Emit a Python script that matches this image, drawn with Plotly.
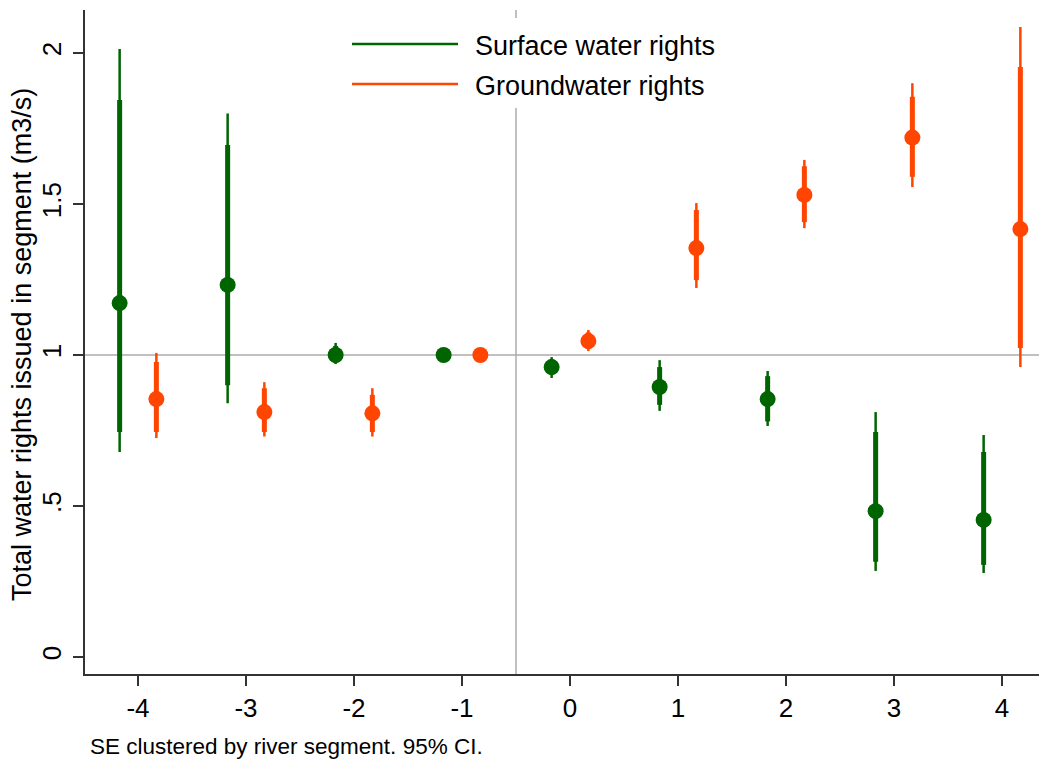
import plotly.graph_objects as go

periods = [-4, -3, -2, -1, 0, 1, 2, 3, 4]
tick_labels = ["-4", "-3", "-2", "-1", "0", "1", "2", "3", "4"]

sw_est = [1.172, 1.232, 1.00, 1.00, 0.96, 0.894, 0.854, 0.483, 0.454]
sw_lo95 = [0.679, 0.84, 0.97, None, 0.924, 0.815, 0.765, 0.285, 0.278]
sw_hi95 = [2.013, 1.80, 1.04, None, 0.993, 0.983, 0.947, 0.811, 0.735]
sw_lo90 = [0.745, 0.90, 0.975, None, 0.935, 0.835, 0.78, 0.315, 0.305]
sw_hi90 = [1.844, 1.695, 1.03, None, 0.985, 0.96, 0.93, 0.745, 0.679]

gw_est = [0.854, 0.811, 0.807, 1.00, 1.046, 1.354, 1.53, 1.72, 1.417]
gw_lo95 = [0.725, 0.73, 0.73, None, 1.013, 1.222, 1.42, 1.556, 0.96]
gw_hi95 = [1.007, 0.91, 0.89, None, 1.083, 1.503, 1.646, 1.90, 2.086]
gw_lo90 = [0.745, 0.745, 0.745, None, 1.02, 1.248, 1.44, 1.59, 1.023]
gw_hi90 = [0.977, 0.89, 0.868, None, 1.075, 1.48, 1.625, 1.855, 1.954]

GREEN = "#006400"
ORANGE = "#FF4500"
FONT = "Liberation Sans, Arial, sans-serif"
OFFSET = 0.17

# page layout helpers (page has an 8px body margin)
PL, PT, PB, PW, PH = 85, 10, 674, 962, 664


def px(x):
    return (x - PL) / PW


def py(y):
    return (PB - y) / PH


def segs(xs, lo, hi):
    X, Y = [], []
    for x, a, b in zip(xs, lo, hi):
        if a is None or b is None:
            continue
        X += [x, x, None]
        Y += [a, b, None]
    return X, Y


fig = go.Figure()
for name, est, lo95, hi95, lo90, hi90, col, off in [
    ("Surface water rights", sw_est, sw_lo95, sw_hi95, sw_lo90, sw_hi90, GREEN, -OFFSET),
    ("Groundwater rights", gw_est, gw_lo95, gw_hi95, gw_lo90, gw_hi90, ORANGE, OFFSET),
]:
    xs = [p + off for p in periods]
    X, Y = segs(xs, lo95, hi95)
    fig.add_trace(go.Scatter(x=X, y=Y, mode="lines", line=dict(color=col, width=2.5),
                             showlegend=False, hoverinfo="skip"))
    X, Y = segs(xs, lo90, hi90)
    fig.add_trace(go.Scatter(x=X, y=Y, mode="lines", line=dict(color=col, width=5),
                             showlegend=False, hoverinfo="skip"))
    fig.add_trace(go.Scatter(x=xs, y=est, mode="markers", name=name,
                             marker=dict(color=col, size=16, symbol="circle", line=dict(width=0)),
                             showlegend=False))

# reference lines
fig.add_hline(y=1, line=dict(color="#ababab", width=1.5), layer="below")
fig.add_vline(x=-0.5, line=dict(color="#ababab", width=1.5), layer="below")

# manual legend
fig.add_shape(type="rect", xref="paper", yref="paper",
              x0=px(340), x1=px(730), y0=py(108), y1=py(18),
              fillcolor="white", line=dict(width=0), layer="above")
for yy, col, txt in [(44, GREEN, "Surface water rights"), (84, ORANGE, "Groundwater rights")]:
    fig.add_shape(type="line", xref="paper", yref="paper",
                  x0=px(352), x1=px(458), y0=py(yy), y1=py(yy),
                  line=dict(color=col, width=2.5), layer="above")
    fig.add_annotation(xref="paper", yref="paper", x=px(473), y=py(yy + 2),
                       text=txt, showarrow=False, xanchor="left", yanchor="middle",
                       font=dict(family=FONT, size=27, color="black"))

# y title
fig.add_annotation(xref="paper", yref="paper", x=px(22), y=py(345),
                   text="Total water rights issued in segment (m3/s)", textangle=-90,
                   showarrow=False, xanchor="center", yanchor="middle",
                   font=dict(family=FONT, size=27, color="black"))
# footnote
fig.add_annotation(xref="paper", yref="paper", x=px(88), y=py(746),
                   text="SE clustered by river segment. 95% CI.", showarrow=False,
                   xanchor="left", yanchor="middle",
                   font=dict(family=FONT, size=22.5, color="black"))

fig.update_layout(
    width=1039, height=752,
    margin=dict(l=PL - 8, r=0, t=PT - 8, b=(752 + 8) - PB, autoexpand=False),
    paper_bgcolor="white", plot_bgcolor="white",
    font=dict(family=FONT, size=22, color="black"),
    showlegend=False,
    xaxis=dict(range=[-4.4907, 4.4167], tickmode="array", tickvals=periods, ticktext=tick_labels,
               showgrid=False, zeroline=False, showline=True, linecolor="#333333", linewidth=2,
               ticks="outside", ticklen=10, tickwidth=2, tickcolor="#333333",
               tickfont=dict(family=FONT, size=26, color="black"), ticklabelstandoff=0),
    yaxis=dict(range=[-0.0563, 2.1424], tickmode="array", tickvals=[0, 0.5, 1, 1.5, 2],
               ticktext=["0", ".5", "1", "1.5", "2"], tickangle=-90,
               showgrid=False, zeroline=False, showline=True, linecolor="#333333", linewidth=2,
               ticks="outside", ticklen=10, tickwidth=2, tickcolor="#333333",
               tickfont=dict(family=FONT, size=26, color="black"), ticklabelstandoff=2),
)

fig.write_html("out.html")
